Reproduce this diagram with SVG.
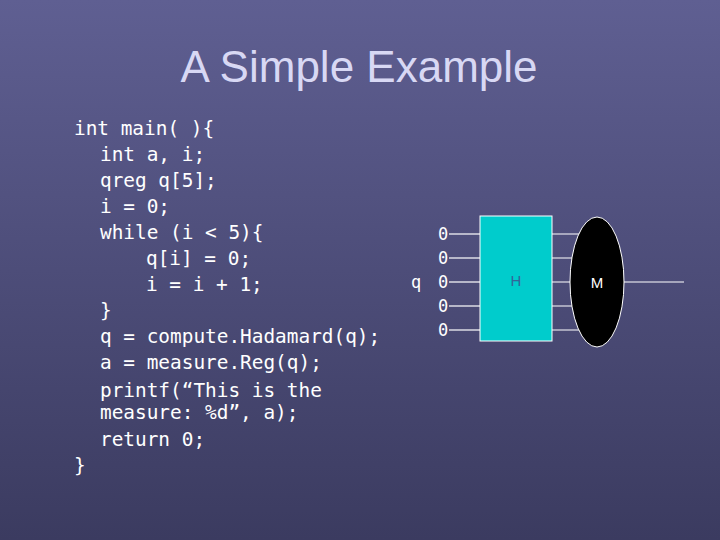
<svg xmlns="http://www.w3.org/2000/svg" width="720" height="540" viewBox="0 0 720 540">
<defs>
<linearGradient id="bg" x1="0" y1="0" x2="0" y2="1">
<stop offset="0" stop-color="#5f5f92"/>
<stop offset="1" stop-color="#3b3b60"/>
</linearGradient>
<style>
.code{font-family:"DejaVu Sans Mono",monospace;font-size:19.4px;fill:#ffffff}
.lbl{font-family:"DejaVu Sans Mono",monospace;font-size:17px;fill:#ffffff}
.w{stroke:#ffffff;stroke-width:1.2}
</style>
</defs>
<rect width="720" height="540" fill="url(#bg)"/>
<text x="359" y="82" text-anchor="middle" font-family="Liberation Sans,Arial,sans-serif" font-size="44" fill="#d8d8f4">A Simple Example</text>
<g id="code" class="code">
<text x="74" y="135">int main( ){</text>
<text x="100" y="161">int a, i;</text>
<text x="100" y="187">qreg q[5];</text>
<text x="100" y="213">i = 0;</text>
<text x="100" y="239">while (i &lt; 5){</text>
<text x="146" y="265">q[i] = 0;</text>
<text x="146" y="291">i = i + 1;</text>
<text x="100" y="317">}</text>
<text x="100" y="343">q = compute.Hadamard(q);</text>
<text x="100" y="369">a = measure.Reg(q);</text>
<text x="100" y="397">printf(“This is the</text>
<text x="100" y="419">measure: %d”, a);</text>
<text x="100" y="446">return 0;</text>
<text x="74" y="472">}</text>
</g>
<g id="connectors" class="w">
<line x1="449" y1="234" x2="480" y2="234"/><line x1="449" y1="258" x2="480" y2="258"/><line x1="449" y1="282" x2="480" y2="282"/><line x1="449" y1="306" x2="480" y2="306"/><line x1="449" y1="330" x2="480" y2="330"/>
<line x1="552" y1="234" x2="590" y2="234"/><line x1="552" y1="258" x2="590" y2="258"/><line x1="552" y1="282" x2="590" y2="282"/><line x1="552" y1="306" x2="590" y2="306"/><line x1="552" y1="330" x2="590" y2="330"/>
<line x1="620" y1="282" x2="684" y2="282"/>
</g>
<g id="inputs" class="lbl">
<text x="411" y="288">q</text>
<text x="438" y="240">0</text><text x="438" y="264">0</text><text x="438" y="288">0</text><text x="438" y="312">0</text><text x="438" y="336">0</text>
</g>
<g id="H">
<rect x="480" y="216" width="72" height="125" fill="#00cccc" stroke="#ffffff" stroke-width="1"/>
<text x="516" y="286" text-anchor="middle" font-family="Liberation Sans,Arial,sans-serif" font-size="15" fill="#336699">H</text>
</g>
<g id="M">
<ellipse cx="597" cy="282" rx="27" ry="65" fill="#000000" stroke="#ffffff" stroke-width="1"/>
<text x="597" y="288" text-anchor="middle" font-family="Liberation Sans,Arial,sans-serif" font-size="15" fill="#ffffff">M</text>
</g>
</svg>
